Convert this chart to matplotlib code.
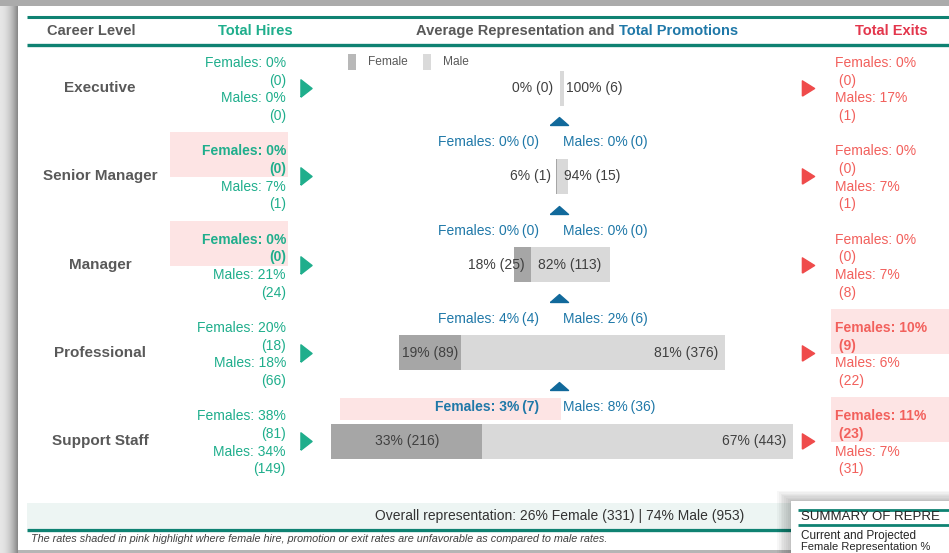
import numpy as np
import matplotlib
matplotlib.use('Agg')
import matplotlib.pyplot as plt
from matplotlib.patches import Rectangle

plt.rcParams['font.family'] = ['Liberation Sans', 'DejaVu Sans']

# data
levels = ['Executive', 'Senior Manager', 'Manager', 'Professional', 'Support Staff']
female_n = [0, 1, 25, 89, 216]
male_n = [6, 15, 113, 376, 443]
female_pct = [0, 6, 18, 19, 33]
male_pct = [100, 94, 82, 81, 67]

hire_f_pct = [0, 0, 0, 20, 38]
hire_f_n = [0, 0, 0, 18, 81]
hire_m_pct = [0, 7, 21, 18, 34]
hire_m_n = [0, 1, 24, 66, 149]

# promotions into Senior Manager .. Support Staff rows
promo_f_pct = [0, 0, 4, 3]
promo_f_n = [0, 0, 4, 7]
promo_m_pct = [0, 0, 2, 8]
promo_m_n = [0, 0, 6, 36]

exit_f_pct = [0, 0, 0, 10, 11]
exit_f_n = [0, 0, 0, 9, 23]
exit_m_pct = [17, 7, 7, 6, 7]
exit_m_n = [1, 1, 8, 22, 31]

overall = 'Overall representation: 26% Female (331) | 74% Male (953)'
footnote = ('The rates shaded in pink highlight where female hire, promotion or exit '
            'rates are unfavorable as compared to male rates.')

# colours
TEAL = '#0f8272'
GREEN = '#1fae8c'
BLUE = '#1f78a8'
BLUE_TRI = '#11699b'
RED = '#f2605c'
RED_HEAD = '#e3364c'
PINK = '#fde4e4'
GRAY_TXT = '#595959'
DARK_BAR = '#a6a6a6'
LIGHT_BAR = '#d9d9d9'

fig = plt.figure(figsize=(9.49, 5.53), dpi=100)
fig.patch.set_facecolor('white')
ax = fig.add_axes([0, 0, 1, 1])
ax.set_xlim(0, 949)
ax.set_ylim(553, 0)
ax.axis('off')

# page shadow / frame
grad = np.linspace(0, 1, 18) ** 2
left_img = np.tile(0.9 - 0.36 * grad, (10, 1))
ax.imshow(left_img, cmap='gray', vmin=0, vmax=1, extent=[0, 18, 553, 0],
          aspect='auto', zorder=0, interpolation='bilinear')
ax.add_patch(Rectangle((0, 0), 949, 5.5, color='#ababab', lw=0, zorder=0.5))
ax.add_patch(Rectangle((18, 549.5), 775, 4, color='#b5b5b5', lw=0, zorder=0.5))

# header
ax.plot([27, 949], [17, 17], color=TEAL, lw=2.2, solid_capstyle='butt')
ax.plot([27, 949], [44.5, 44.5], color=TEAL, lw=2.4, solid_capstyle='butt')
hy = 31
ax.text(91, hy, 'Career Level', ha='center', va='center', fontsize=10.5,
        fontweight='bold', color=GRAY_TXT)
ax.text(255, hy, 'Total Hires', ha='center', va='center', fontsize=10.5,
        fontweight='bold', color=GREEN)
t1 = ax.text(416, hy, 'Average Representation and ', ha='left', va='center',
             fontsize=10.5, fontweight='bold', color=GRAY_TXT)
ax.annotate('Total Promotions', xycoords=t1, xy=(1, 0.5), ha='left', va='center',
            fontsize=10.5, fontweight='bold', color=BLUE)
ax.text(891, hy, 'Total Exits', ha='center', va='center', fontsize=10.5,
        fontweight='bold', color=RED_HEAD)

# legend
ax.add_patch(Rectangle((348, 54), 8.5, 16, color='#b8b8b8', lw=0))
ax.text(368, 62, 'Female', ha='left', va='center', fontsize=8.6, color=GRAY_TXT)
ax.add_patch(Rectangle((423, 54), 8.5, 16, color='#dadada', lw=0))
ax.text(443, 62, 'Male', ha='left', va='center', fontsize=8.6, color=GRAY_TXT)

row_y = 88 + 88.25 * np.arange(len(levels))
scale = 0.701
cx = 562
fs = 10

tri_right = [(-0.32, -0.5), (-0.32, 0.5), (0.32, 0), (-0.32, -0.5)]
tri_right_r = [(-0.4, -0.5), (-0.4, 0.5), (0.4, 0), (-0.4, -0.5)]
tri_up = [(-0.5, -0.22), (0.5, -0.22), (0, 0.22), (-0.5, -0.22)]

offs = [-25, -7, 10.5, 28]

for i, lv in enumerate(levels):
    y = row_y[i]
    ax.text(100, y, lv, ha='center', va='center', fontsize=11,
            fontweight='bold', color=GRAY_TXT)

    # hires
    bad = hire_f_pct[i] < hire_m_pct[i]
    if bad:
        ax.add_patch(Rectangle((170, y - 44), 118, 45, color=PINK, lw=0, zorder=1))
    w = 'bold' if bad else 'normal'
    lines = [('Females: %d%%' % hire_f_pct[i], w), ('(%d)' % hire_f_n[i], w),
             ('Males: %d%%' % hire_m_pct[i], 'normal'), ('(%d)' % hire_m_n[i], 'normal')]
    for (s, fw), o in zip(lines, offs):
        ax.text(286, y + o, s, ha='right', va='center', fontsize=fs,
                color=GREEN, fontweight=fw, zorder=3)
    ax.plot(306, y, marker=tri_right, ms=12.5, color=GREEN, ls='none')

    # exits
    bad = exit_f_pct[i] > exit_m_pct[i]
    if bad:
        ax.add_patch(Rectangle((831, y - 44), 118, 45, color=PINK, lw=0, zorder=1))
    w = 'bold' if bad else 'normal'
    lines = [('Females: %d%%' % exit_f_pct[i], w), (' (%d)' % exit_f_n[i], w),
             ('Males: %d%%' % exit_m_pct[i], 'normal'), (' (%d)' % exit_m_n[i], 'normal')]
    for (s, fw), o in zip(lines, offs):
        ax.text(835, y + o, s, ha='left', va='center', fontsize=fs,
                color=RED, fontweight=fw, zorder=3)
    ax.plot(808, y, marker=tri_right_r, ms=11, color='#ef4b4b', ls='none')

    # representation bar
    tot = (female_n[i] + male_n[i]) * scale
    left = cx - tot / 2
    fw_ = female_n[i] * scale
    mw_ = male_n[i] * scale
    ax.barh(y, fw_, left=left, height=35, color=DARK_BAR, zorder=2)
    ax.barh(y, mw_, left=left + fw_, height=35, color=LIGHT_BAR, zorder=2)
    bnd = left + fw_
    flab = '%d%% (%d)' % (female_pct[i], female_n[i])
    mlab = '%d%% (%d)' % (male_pct[i], male_n[i])
    if fw_ > 55:
        ax.text(left + fw_ / 2, y, flab, ha='center', va='center', fontsize=fs,
                color='#404040', zorder=3)
    else:
        ax.text(bnd - 6.5, y, flab, ha='right', va='center', fontsize=fs,
                color='#404040', zorder=3)
    if mw_ > 100:
        ax.text(left + tot - 7, y, mlab, ha='right', va='center', fontsize=fs,
                color='#404040', zorder=3)
    else:
        ax.text(bnd + 6.5, y, mlab, ha='left', va='center', fontsize=fs,
                color='#404040', zorder=3)

    # promotions into this level
    if i > 0:
        j = i - 1
        ax.plot(559.5, y - 55, marker=tri_up, ms=13, color=BLUE_TRI, ls='none')
        bad = promo_f_pct[j] < promo_m_pct[j]
        if bad:
            ax.add_patch(Rectangle((340, y - 43), 221, 22, color=PINK, lw=0, zorder=1))
        ax.text(539, y - 34, 'Females: %d%%\u2009(%d)' % (promo_f_pct[j], promo_f_n[j]),
                ha='right', va='center', fontsize=fs, color=BLUE,
                fontweight='bold' if bad else 'normal', zorder=3)
        ax.text(563, y - 34, 'Males: %d%%\u2009(%d)' % (promo_m_pct[j], promo_m_n[j]),
                ha='left', va='center', fontsize=fs, color=BLUE, zorder=3)

# footer band
ax.add_patch(Rectangle((27, 503), 922, 25, color='#edf5f3', lw=0, zorder=1))
ax.plot([27, 949], [529.5, 529.5], color=TEAL, lw=2.4, solid_capstyle='butt', zorder=2)
ax.text(560, 516, overall, ha='center', va='center', fontsize=10, color='#333333', zorder=3)
ax.text(31, 539.5, footnote, ha='left', va='center', fontsize=7.8, style='italic',
        color='#404040', zorder=3)

# summary card (partially visible)
for k in range(8):
    d = 14 - k * 1.8
    ax.add_patch(Rectangle((791 - d, 501 - d * 0.7), 200, 100, color='black',
                           alpha=0.03, lw=0, zorder=4))
ax.add_patch(Rectangle((791, 501), 200, 100, color='white', lw=0, zorder=5))
ax.plot([798, 949], [509.5, 509.5], color=TEAL, lw=2, solid_capstyle='butt', zorder=6)
ax.text(801, 517.5, 'SUMMARY OF REPRE', ha='left', va='center',
        fontsize=9.5, color='#252525', zorder=6)
ax.plot([798, 949], [525, 525], color=TEAL, lw=2, solid_capstyle='butt', zorder=6)
ax.text(801, 536.5, 'Current and Projected', ha='left', va='center', fontsize=8.5,
        color='#252525', zorder=6)
ax.text(801, 547, 'Female Representation %', ha='left', va='center', fontsize=8,
        color='#252525', zorder=6)

fig.savefig('out.png', dpi=100)
